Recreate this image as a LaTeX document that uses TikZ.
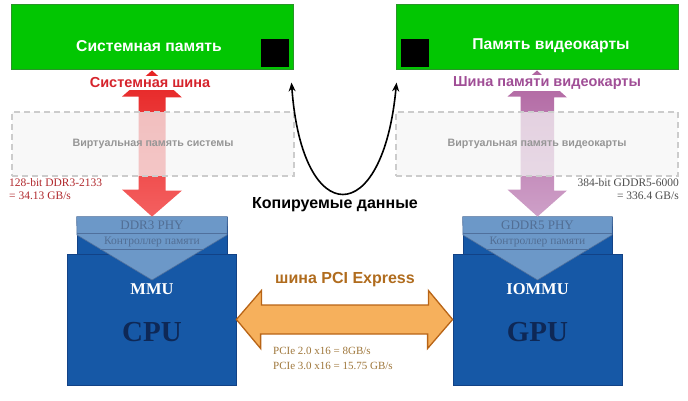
\documentclass[tikz,border=0pt]{standalone}
\usepackage{fontspec}
\setmainfont{Liberation Serif}
\setsansfont{Liberation Sans}
\usetikzlibrary{arrows.meta}

\definecolor{memgreen}{RGB}{2,198,2}
\definecolor{memedge}{RGB}{40,150,40}
\definecolor{busred}{RGB}{230,36,36}
\definecolor{busredlt}{RGB}{244,96,96}
\definecolor{redtxt}{RGB}{214,36,44}
\definecolor{ratered}{RGB}{176,40,44}
\definecolor{buspurple}{RGB}{176,100,160}
\definecolor{buspurplelt}{RGB}{206,160,200}
\definecolor{purpletxt}{RGB}{160,78,150}
\definecolor{chipblue}{RGB}{22,88,166}
\definecolor{chipedge}{RGB}{18,66,134}
\definecolor{ctlblue}{RGB}{108,152,200}
\definecolor{ctlline}{RGB}{80,112,156}
\definecolor{ctltxt}{RGB}{82,110,148}
\definecolor{chiptxt}{RGB}{14,40,86}
\definecolor{pcifill}{RGB}{246,176,92}
\definecolor{pciedge}{RGB}{184,100,22}
\definecolor{pcitxt}{RGB}{176,108,30}
\definecolor{pcirate}{RGB}{158,118,58}
\definecolor{virttxt}{RGB}{150,150,150}

\begin{document}
\begin{tikzpicture}[x=1pt, y=-1pt,
    membox/.style={draw=memedge, line width=1pt, fill=memgreen, minimum width=282pt, minimum height=65pt, inner sep=0pt},
    memtext/.style={text=white, font=\sffamily\bfseries\fontsize{15.7}{18}\selectfont},
    blk/.style={fill=black, minimum size=28pt, inner sep=0pt},
    virtbox/.style={draw=black!20, dash pattern=on 6pt off 4pt, line width=1.2pt, fill=black!4, fill opacity=0.72, text opacity=1, text=virttxt, minimum width=282pt, minimum height=64pt, font=\sffamily\bfseries\fontsize{10.7}{12}\selectfont},
    buslabel/.style={fill=white, inner sep=1.5pt, font=\sffamily\bfseries\fontsize{14.5}{17}\selectfont},
    chipbox/.style={draw=chipedge, fill=chipblue, line width=0.8pt, inner sep=0pt},
    ctltop/.style={fill=ctlblue, draw=ctlline, line width=0.6pt},
    ctlrule/.style={draw=ctlline, line width=0.6pt},
    phytext/.style={text=ctltxt, font=\fontsize{13}{15}\selectfont},
    mctext/.style={text=ctltxt, font=\fontsize{11.5}{13}\selectfont},
    mmutext/.style={text=white, font=\bfseries\fontsize{16.5}{19}\selectfont},
    chiplabel/.style={text=chiptxt, font=\bfseries\fontsize{29}{32}\selectfont},
    ratetext/.style={font=\fontsize{11.5}{12.5}\selectfont, inner sep=0pt}]
\useasboundingbox (0,0) rectangle (688,401);

% memory
\node[membox] (sysmem) at (152,37.5) {};
\node[membox] (vidmem) at (537,37.5) {};
\node[memtext] (sysmemtxt) at (149,46) {Системная память};
\node[memtext] (vidmemtxt) at (551,46) {Память видеокарты};
\node[blk] (sysblk) at (275,53) {};
\node[blk] (vidblk) at (415,53) {};

% processors
\node[chipbox, minimum width=169pt, minimum height=131pt] (cpu) at (151.5,319.5) {};
\node[chipbox, minimum width=150pt, minimum height=37pt] (cpuctl) at (152,235.5) {};
\node[chipbox, minimum width=169pt, minimum height=131pt] (gpu) at (537.5,319.5) {};
\node[chipbox, minimum width=149pt, minimum height=37pt] (gpuctl) at (537.5,235.5) {};
\draw[ctltop] (cpuctl.north west) -- (cpuctl.north east) -- (227,235) -- (152,280) -- (77,235) -- cycle;
\draw[ctltop] (gpuctl.north west) -- (gpuctl.north east) -- (612,235) -- (537.5,280) -- (463,235) -- cycle;
\draw[ctlrule] (77,233) -- (227,233);
\draw[ctlrule] (100,249) -- (204,249);
\draw[ctlrule] (463,233) -- (612,233);
\draw[ctlrule] (486,249) -- (589,249);
\node[phytext] (cpuphy) at (152,225.5) {DDR3 PHY};
\node[mctext] (cpumc) at (152,241.5) {Контроллер памяти};
\node[mmutext] (cpummu) at (152,289) {MMU};
\node[chiplabel] (cpulbl) at (152,332) {CPU};
\node[phytext] (gpuphy) at (537.5,225.5) {GDDR5 PHY};
\node[mctext] (gpumc) at (537.5,241.5) {Контроллер памяти};
\node[mmutext] (gpummu) at (537.5,289) {IOMMU};
\node[chiplabel] (gpulbl) at (537.5,332) {GPU};

% memory buses
\path[top color=busred, bottom color=busredlt] (sysmem.south) -- ++(30,27) -- ++(-16.5,0) -- ++(0,93) -- ++(16.5,0) -- (cpuctl.north) -- ++(-30,-27) -- ++(16.5,0) -- ++(0,-93) -- ++(-16.5,0) -- cycle;
\path[top color=buspurple, bottom color=buspurplelt] (vidmem.south) -- ++(30,27) -- ++(-13,0) -- ++(0,93) -- ++(13,0) -- (gpuctl.north) -- ++(-30,-27) -- ++(13,0) -- ++(0,-93) -- ++(-13,0) -- cycle;

% virtual memory
\node[virtbox] (sysvirt) at (153,144) {Виртуальная память системы};
\node[virtbox] (vidvirt) at (537,144) {Виртуальная память видеокарты};

% bus labels
\node[buslabel, text=redtxt] (sysbus) at (150,83) {Системная шина};
\node[buslabel, text=purpletxt] (vidbus) at (547,83) {Шина памяти видеокарты};
\node[ratetext, text=ratered, align=left, anchor=west] (sysrate) at (9,189) {128-bit DDR3-2133\\= 34.13 GB/s};
\node[ratetext, text=black!70, align=right, anchor=east] (vidrate) at (679,189) {384-bit GDDR5-6000\\= 336.4 GB/s};

% PCI Express
\draw[fill=pcifill, draw=pciedge, line width=1.3pt, line join=miter] (cpu.east) -- ++(25,-29) -- ++(0,14.5) -- ++(167,0) -- ++(0,-14.5) -- (gpu.west) -- ++(-25,29) -- ++(0,-14.5) -- ++(-167,0) -- ++(0,14.5) -- cycle;
\node[text=pcitxt, font=\sffamily\bfseries\fontsize{16}{18}\selectfont] (pcilbl) at (345,280) {шина PCI Express};
\node[ratetext, text=pcirate, align=left, anchor=west, font=\fontsize{11}{15}\selectfont] (pcirate) at (273,358.5) {PCIe 2.0 x16 = 8GB/s\\PCIe 3.0 x16 = 15.75 GB/s};

% copy
\coordinate (copyL) at ([xshift=-2pt, yshift=-12pt]sysmem.south east);
\coordinate (copyR) at ([xshift=1pt, yshift=-12pt]vidmem.south west);
\draw[line width=1.6pt, {Stealth[length=9pt, width=7pt]}-{Stealth[length=9pt, width=7pt]}] (copyL) .. controls (302,230) and (383,230) .. (copyR);
\node[font=\sffamily\bfseries\fontsize{16}{18}\selectfont] (copytxt) at (335,205) {Копируемые данные};
\end{tikzpicture}
\end{document}
